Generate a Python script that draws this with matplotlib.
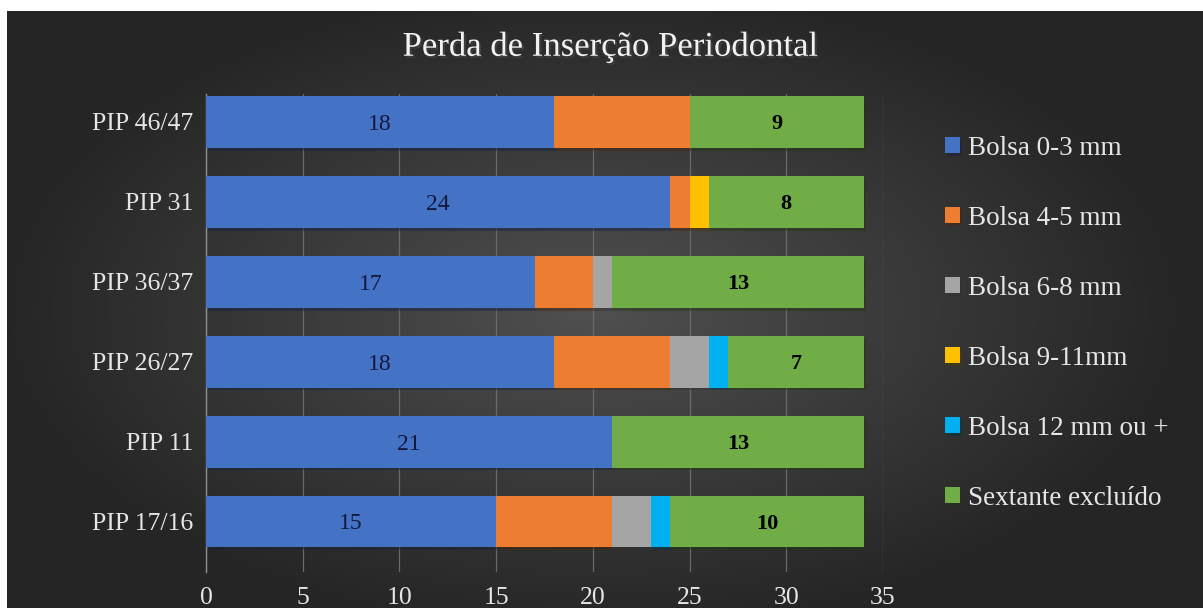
import numpy as np
import matplotlib
matplotlib.use("Agg")
import matplotlib.pyplot as plt
import matplotlib.patheffects as pe

# dados
categorias = ["PIP 17/16", "PIP 11", "PIP 26/27", "PIP 36/37", "PIP 31", "PIP 46/47"]
series = ["Bolsa 0-3 mm", "Bolsa 4-5 mm", "Bolsa 6-8 mm", "Bolsa 9-11mm",
          "Bolsa 12 mm ou +", "Sextante excluído"]
bolsa_0_3 = [15, 21, 18, 17, 24, 18]
bolsa_4_5 = [6, 0, 6, 3, 1, 7]
bolsa_6_8 = [2, 0, 2, 1, 0, 0]
bolsa_9_11 = [0, 0, 0, 0, 1, 0]
bolsa_12 = [1, 0, 1, 0, 0, 0]
excluido = [10, 13, 7, 13, 8, 9]
valores = [bolsa_0_3, bolsa_4_5, bolsa_6_8, bolsa_9_11, bolsa_12, excluido]
cores = ["#4472C4", "#ED7D31", "#A5A5A5", "#FFC000", "#00B0F0", "#70AD47"]

serif = ["Liberation Serif", "DejaVu Serif"]
texto = "#e6e6e6"

fig = plt.figure(figsize=(12.03, 6.08), dpi=100, facecolor="white")

# fundo com gradiente radial (estilo Excel escuro)
bg = fig.add_axes([7 / 1203, 0, 1 - 7 / 1203, 1 - 11 / 608])
bg.set_axis_off()
xx, yy = np.meshgrid(np.linspace(-1, 1, 400), np.linspace(-1, 1, 200))
rr = np.sqrt(((xx + 0.02) / 1.0) ** 2 + (yy / 1.1) ** 2)
rr = np.clip(rr, 0, 1)
claro = np.array([0x50, 0x50, 0x50]) / 255
escuro = np.array([0x25, 0x25, 0x25]) / 255
img = claro[None, None, :] * (1 - rr[..., None]) + escuro[None, None, :] * rr[..., None]
bg.imshow(img, aspect="auto", extent=[0, 1, 0, 1], interpolation="bilinear")

ax = fig.add_axes([206 / 1203, 1 - 572 / 608, 677 / 1203, 478 / 608])
ax.patch.set_alpha(0)

y = np.arange(len(categorias))
esquerda = np.zeros(len(categorias))
conts = []
for nome, vals, cor in zip(series, valores, cores):
    c = ax.barh(y, vals, left=esquerda, height=0.65, color=cor, label=nome, zorder=3,
                path_effects=[pe.SimplePatchShadow(offset=(1.5, -2), alpha=0.45), pe.Normal()])
    conts.append(c)
    esquerda += np.array(vals)

# rotulos so nas series azul e verde
for t in ax.bar_label(conts[0], label_type="center", color="#14183d", fontsize=17,
                      family=serif, zorder=4):
    t.set_va("center_baseline")
for t in ax.bar_label(conts[-1], label_type="center", color="black", fontsize=16,
                      fontweight="bold", family=serif, zorder=4):
    t.set_va("center_baseline")

ax.set_xlim(0, 35)
ax.set_ylim(-0.632, 5.35)
ax.set_xticks(range(0, 36, 5))
ax.set_yticks(y)
ax.set_yticklabels(categorias)
ax.grid(axis="x", color="#6a6a6a", linewidth=0.9, zorder=0)
for s in ["top", "right", "bottom"]:
    ax.spines[s].set_visible(False)
ax.spines["left"].set_color("#8c8c8c")
ax.spines["left"].set_linewidth(1.0)
ax.tick_params(axis="both", length=0, colors=texto, labelsize=18.5)
ax.tick_params(axis="y", pad=9)
ax.tick_params(axis="x", pad=11)
for lab in ax.get_xticklabels() + ax.get_yticklabels():
    lab.set_family(serif)

leg = ax.legend(loc="upper left", bbox_to_anchor=(1.075, 0.935), frameon=False,
                prop={"family": serif, "size": 19.5}, labelcolor=texto,
                handlelength=0.55, handleheight=0.55, handletextpad=0.3,
                labelspacing=1.66, borderaxespad=0)

fig.text(0.508, 1 - 47 / 608, "Perda de Inserção Periodontal", ha="center", va="center",
         fontsize=25, color="#f2f2f2", family=serif,
         path_effects=[pe.withSimplePatchShadow(offset=(1.5, -1.5), alpha=0.6)])

fig.savefig("out.png", dpi=100, facecolor=fig.get_facecolor())
